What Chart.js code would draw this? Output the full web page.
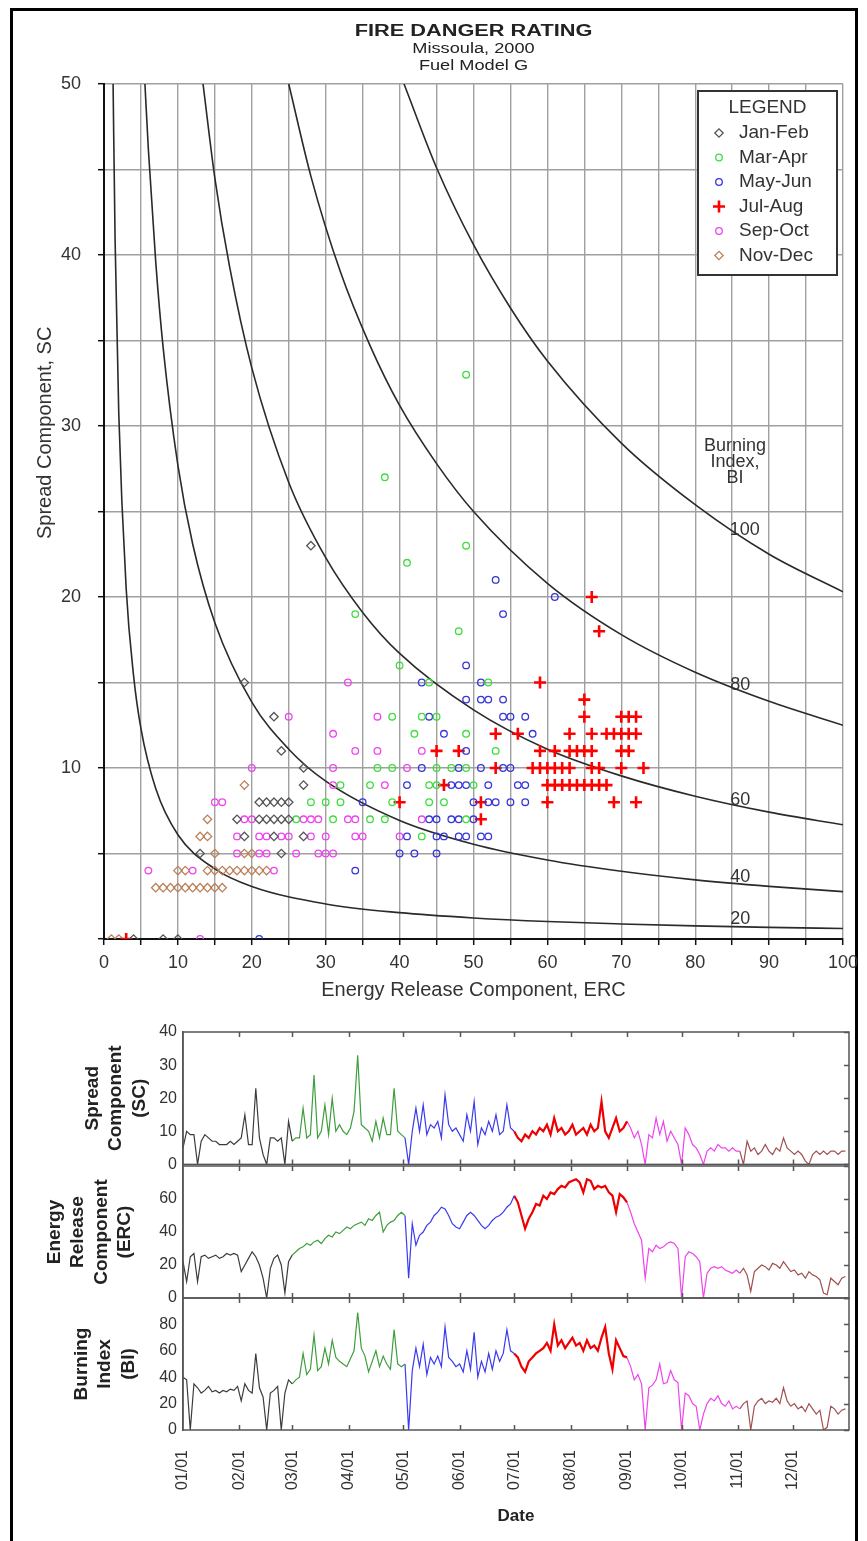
<!DOCTYPE html>
<html>
<head>
<meta charset="utf-8">
<script src="https://cdn.jsdelivr.net/npm/chart.js@4.4.1/dist/chart.umd.min.js"></script>
<style>
  body { margin: 0; background: #fff; }
  #page { position: relative; width: 867px; height: 1541px; overflow: hidden; background: #fff; }
  #frame { position: absolute; left: 10px; top: 8px; width: 848px; height: 1540px; border: 3px solid #000; border-bottom: none; box-sizing: border-box; }
  canvas { position: absolute; left: 0; }
</style>
</head>
<body>
<div id="page">
  <div id="frame"></div>
  <canvas id="scatter" width="867" height="1010" style="top:0"></canvas>
  <canvas id="sc" width="867" height="165" style="top:1015px"></canvas>
  <canvas id="erc" width="867" height="165" style="top:1150px"></canvas>
  <canvas id="bi" width="867" height="259" style="top:1282px"></canvas>
</div>
<script>
// scatter: ERC (x) against SC (y), one pair of arrays per two-month period
const janFebErc = [28, 19, 23, 24, 27, 27, 21, 22, 23, 24, 25, 18, 21, 22, 23, 24, 25, 19, 23, 27, 13, 24, 4, 8, 10];
const janFebSc  = [23, 15, 13, 11, 10, 9, 8, 8, 8, 8, 8, 7, 7, 7, 7, 7, 7, 6, 6, 6, 5, 5, 0, 0, 0];

const marAprErc = [49, 38, 49, 41, 34, 48, 40, 44, 52, 39, 43, 45, 42, 49, 53, 37, 39, 45, 47, 49, 32, 36, 44, 45, 50, 28, 30, 32, 39, 44, 46, 26, 31, 36, 38, 49, 43];
const marAprSc  = [33, 27, 23, 22, 19, 18, 16, 15, 15, 13, 13, 13, 12, 12, 11, 10, 10, 10, 10, 10, 9, 9, 9, 9, 9, 8, 8, 8, 8, 8, 8, 7, 7, 7, 7, 7, 6];

const mayJunErc = [53, 61, 54, 49, 43, 51, 49, 51, 52, 54, 44, 54, 55, 57, 46, 58, 49, 43, 48, 51, 54, 55, 41, 47, 48, 49, 52, 56, 57, 35, 50, 52, 53, 55, 57, 44, 45, 47, 48, 50, 41, 45, 46, 48, 49, 51, 52, 40, 42, 45, 34, 21];
const mayJunSc  = [21, 20, 19, 16, 15, 15, 14, 14, 14, 14, 13, 13, 13, 13, 12, 12, 11, 10, 10, 10, 10, 10, 9, 9, 9, 9, 9, 9, 9, 8, 8, 8, 8, 8, 8, 7, 7, 7, 7, 7, 6, 6, 6, 6, 6, 6, 6, 5, 5, 5, 4, 0];

const julAugErc = [66, 67, 59, 65, 65, 70, 71, 72, 53, 56, 63, 66, 68, 69, 70, 71, 72, 45, 48, 59, 61, 63, 64, 65, 66, 70, 71, 53, 58, 59, 60, 61, 62, 63, 66, 67, 70, 73, 46, 60, 61, 62, 63, 64, 65, 66, 67, 68, 40, 51, 60, 69, 72, 51, 3];
const julAugSc  = [20, 18, 15, 14, 13, 13, 13, 13, 12, 12, 12, 12, 12, 12, 12, 12, 12, 11, 11, 11, 11, 11, 11, 11, 11, 11, 11, 10, 10, 10, 10, 10, 10, 10, 10, 10, 10, 10, 9, 9, 9, 9, 9, 9, 9, 9, 9, 9, 8, 8, 8, 8, 8, 7, 0];

const sepOctErc = [33, 25, 37, 31, 34, 37, 43, 20, 31, 41, 31, 38, 15, 16, 19, 20, 27, 28, 29, 33, 34, 43, 18, 21, 22, 24, 25, 28, 30, 34, 35, 40, 18, 21, 22, 26, 29, 30, 31, 6, 12, 23, 13];
const sepOctSc  = [15, 13, 13, 12, 11, 11, 11, 10, 10, 10, 9, 9, 8, 8, 7, 7, 7, 7, 7, 7, 7, 7, 6, 6, 6, 6, 6, 6, 6, 6, 6, 6, 5, 5, 5, 5, 5, 5, 5, 4, 4, 4, 0];

const novDecErc = [19, 14, 13, 14, 15, 19, 20, 10, 11, 14, 15, 16, 17, 18, 19, 20, 21, 22, 7, 8, 9, 10, 11, 12, 13, 14, 15, 16, 1, 2];
const novDecSc  = [9, 7, 6, 6, 5, 5, 5, 4, 4, 4, 4, 4, 4, 4, 4, 4, 4, 4, 3, 3, 3, 3, 3, 3, 3, 3, 3, 3, 0, 0];

// Burning Index isolines
const bi20Erc  = [1.23, 1.5, 2, 3, 4, 5, 7, 10, 15, 20, 30, 40, 50, 60, 70, 80, 90, 100];
const bi20Sc   = [50, 40.9, 30.7, 20.5, 15.4, 12.3, 8.8, 6.1, 4.1, 3.07, 2.05, 1.54, 1.23, 1.02, 0.88, 0.77, 0.68, 0.61];
const bi40Erc  = [5.54, 6, 7, 8, 10, 12, 15, 20, 25, 30, 40, 50, 60, 70, 80, 90, 100];
const bi40Sc   = [50, 46.2, 39.6, 34.6, 27.7, 23.1, 18.5, 13.85, 11.1, 9.23, 6.93, 5.54, 4.62, 3.96, 3.46, 3.08, 2.77];
const bi60Erc  = [13.4, 15, 17, 20, 25, 30, 35, 40, 50, 60, 70, 80, 90, 100];
const bi60Sc   = [50, 44.5, 39.3, 33.4, 26.7, 22.3, 19.1, 16.7, 13.4, 11.1, 9.54, 8.35, 7.42, 6.68];
const bi80Erc  = [25, 28, 32, 36, 40, 45, 50, 60, 70, 80, 90, 100];
const bi80Sc   = [50, 44.6, 39.0, 34.7, 31.2, 27.8, 25.0, 20.8, 17.8, 15.6, 13.9, 12.5];
const bi100Erc = [40.6, 45, 50, 55, 60, 70, 80, 90, 100];
const bi100Sc  = [50, 45.1, 40.6, 36.9, 33.8, 29.0, 25.4, 22.5, 20.3];
const biLevels = ['20', '40', '60', '80', '100'];

// daily indices sampled every second day of 2000 (day 0 = 01/01)
const sampleDays = Array.from({ length: 183 }, (_, i) => i * 2);
const scValues = [
  5, 10, 9, 9, 0, 7, 9, 8, 7, 7, 6, 6, 6, 7, 6, 7, 8, 15, 6, 6, 23, 8, 3, 0, 8, 8, 7, 8, 0, 13,
  7, 8, 8, 17, 8, 9, 27, 8, 10, 18, 9, 20, 10, 12, 10, 9, 11, 16, 33, 12, 11, 10, 7, 13, 8, 14, 9, 9, 23, 10, 9,
  8, 0, 10, 17, 10, 18, 9, 12, 11, 13, 8, 21, 12, 10, 11, 9, 7, 15, 10, 19, 6, 11, 9, 13, 10, 15, 9, 10, 18, 11,
  10, 8, 7, 9, 8, 10, 9, 11, 10, 12, 9, 14, 10, 11, 9, 10, 12, 9, 10, 11, 9, 12, 10, 11, 19, 10, 8, 11, 14, 10, 11,
  13, 11, 8, 10, 6, 0, 9, 8, 14, 9, 13, 7, 10, 8, 6, 0, 11, 9, 6, 5, 3, 0, 4, 5, 4, 6, 5, 5, 4, 5, 4,
  4, 0, 7, 4, 5, 3, 4, 6, 4, 3, 5, 4, 8, 5, 4, 3, 4, 3, 1, 0, 3, 4, 3, 4, 3, 4, 4, 3, 4, 4
];
const ercValues = [
  22, 10, 25, 27, 10, 25, 26, 24, 25, 26, 24, 25, 27, 26, 27, 26, 16, 20, 24, 28, 25, 20, 12, 0, 18, 24, 26, 20, 3, 22,
  26, 28, 30, 31, 33, 32, 34, 35, 33, 36, 38, 37, 40, 39, 41, 43, 42, 44, 45, 46, 44, 48, 47, 50, 52, 40, 44, 46, 47, 50, 52,
  50, 12, 45, 32, 38, 40, 44, 46, 50, 52, 55, 54, 50, 45, 43, 42, 46, 50, 52, 50, 47, 44, 42, 44, 47, 49, 50, 52, 55, 57,
  62, 58, 50, 42, 48, 52, 57, 56, 62, 60, 64, 63, 66, 68, 67, 70, 71, 72, 70, 64, 72, 71, 66, 68, 67, 68, 64, 62, 52, 63, 61,
  58, 52, 45, 40, 35, 12, 30, 28, 32, 30, 31, 33, 34, 33, 30, 0, 25, 28, 27, 25, 22, 0, 15, 18, 19, 18, 19, 17, 16, 15, 17,
  15, 18, 14, 4, 16, 18, 20, 19, 17, 21, 20, 18, 22, 19, 16, 17, 14, 15, 12, 16, 14, 13, 11, 3, 2, 12, 10, 8, 12, 13
];
const biValues = [
  40, 38, 0, 35, 32, 28, 30, 33, 29, 30, 28, 30, 29, 31, 30, 33, 22, 35, 30, 28, 58, 32, 25, 0, 28, 30, 33, 0, 28, 38,
  35, 38, 40, 58, 42, 46, 72, 45, 48, 62, 50, 68, 55, 52, 50, 48, 54, 60, 89, 62, 56, 44, 52, 60, 48, 56, 50, 46, 76, 50, 48,
  50, 0, 45, 62, 48, 65, 42, 55, 50, 56, 48, 78, 55, 52, 48, 50, 44, 60, 46, 74, 40, 52, 44, 58, 46, 60, 52, 58, 76, 60,
  58, 55, 48, 44, 52, 55, 58, 60, 62, 66, 60, 80, 64, 68, 62, 66, 70, 64, 66, 60, 68, 62, 64, 60, 70, 78, 58, 46, 68, 62, 56,
  55, 48, 38, 42, 35, 0, 32, 34, 38, 50, 35, 36, 45, 38, 36, 0, 28, 26, 20, 18, 0, 12, 20, 24, 22, 26, 20, 18, 22, 16, 18,
  16, 20, 22, 0, 18, 22, 24, 20, 22, 21, 24, 20, 32, 22, 18, 20, 16, 18, 14, 20, 16, 12, 15, 0, 2, 18, 16, 12, 15, 16
];

const seasons = ['Jan-Feb', 'Mar-Apr', 'May-Jun', 'Jul-Aug', 'Sep-Oct', 'Nov-Dec'];
const seasonStarts = [0, 60, 121, 182, 244, 305, 366];
const monthDays = [0, 31, 60, 91, 121, 152, 182, 213, 244, 274, 305, 335];
const monthLabels = ['01/01', '02/01', '03/01', '04/01', '05/01', '06/01', '07/01', '08/01', '09/01', '10/01', '11/01', '12/01'];

const FONT = '"Liberation Sans", Arial, sans-serif';
Chart.defaults.font.family = FONT;
Chart.defaults.color = '#333';

const markers = [
  { style: 'rectRot', radius: 4.2, color: '#555555', width: 1.3 },
  { style: 'circle', radius: 3.3, color: '#3fdc3f', width: 1.3 },
  { style: 'circle', radius: 3.3, color: '#3636d8', width: 1.3 },
  { style: 'cross', radius: 6, color: '#ff0000', width: 2.6 },
  { style: 'circle', radius: 3.3, color: '#ee44ee', width: 1.3 },
  { style: 'rectRot', radius: 4.2, color: '#bb8058', width: 1.3 }
];
const lineColors = ['#3c3c3c', '#3e9e3e', '#3a3aee', '#ee0000', '#ee44ee', '#a05050'];

const pairs = (xs, ys) => xs.map((x, i) => ({ x, y: ys[i] }));
const scatterSets = [
  [janFebErc, janFebSc], [marAprErc, marAprSc], [mayJunErc, mayJunSc],
  [julAugErc, julAugSc], [sepOctErc, sepOctSc], [novDecErc, novDecSc]
].map(([xs, ys], i) => ({
  label: seasons[i],
  data: pairs(xs, ys),
  pointStyle: markers[i].style,
  pointRadius: markers[i].radius,
  pointBorderColor: markers[i].color,
  pointBackgroundColor: 'rgba(0,0,0,0)',
  pointBorderWidth: markers[i].width,
  showLine: false
}));

const curveSets = [[bi20Erc, bi20Sc], [bi40Erc, bi40Sc], [bi60Erc, bi60Sc], [bi80Erc, bi80Sc], [bi100Erc, bi100Sc]]
  .map(([xs, ys], i) => ({
    label: 'BI ' + biLevels[i],
    data: pairs(xs, ys),
    showLine: true,
    pointRadius: 0,
    borderColor: '#2a2a2a',
    borderWidth: 1.6,
    cubicInterpolationMode: 'monotone'
  }));

// text drawn inside the scatter: titles, isoline labels, boxed legend
const scatterDecor = {
  id: 'scatterDecor',
  afterDraw(chart) {
    const { ctx, chartArea: a, scales: { x, y } } = chart;
    ctx.save();
    ctx.fillStyle = '#222';
    ctx.textAlign = 'center';
    ctx.textBaseline = 'middle';
    const cx = (a.left + a.right) / 2;
    const stretched = (text, font, py, sx) => {
      ctx.save();
      ctx.font = font;
      ctx.translate(cx, py);
      ctx.scale(sx, 1);
      ctx.fillText(text, 0, 0);
      ctx.restore();
    };
    stretched('FIRE DANGER RATING', 'bold 16px ' + FONT, 32, 1.36);
    stretched('Missoula, 2000', '14px ' + FONT, 49, 1.3);
    stretched('Fuel Model G', '14px ' + FONT, 66, 1.3);

    // y axis title, sitting a little above the middle of the axis as in the original
    ctx.save();
    ctx.fillStyle = '#333';
    ctx.font = '20px ' + FONT;
    ctx.translate(45, y.getPixelForValue(29.6));
    ctx.rotate(-Math.PI / 2);
    ctx.fillText('Spread Component, SC', 0, 0);
    ctx.restore();

    ctx.fillStyle = '#333';
    ctx.font = '18px ' + FONT;
    const spots = [[86.1, 1.15], [86.1, 3.65], [86.1, 8.15], [86.1, 14.85], [86.7, 23.9]];
    biLevels.forEach((t, i) => ctx.fillText(t, x.getPixelForValue(spots[i][0]), y.getPixelForValue(spots[i][1])));
    ['Burning', 'Index,', 'BI'].forEach((t, i) =>
      ctx.fillText(t, x.getPixelForValue(85.4), y.getPixelForValue(28.8) + i * 16));

    // legend box
    const w = 139, h = 184;
    const lx = a.right - 6 - w, ly = a.top + 7;
    ctx.fillStyle = '#fff';
    ctx.fillRect(lx, ly, w, h);
    ctx.strokeStyle = '#333';
    ctx.lineWidth = 2;
    ctx.strokeRect(lx, ly, w, h);
    ctx.fillStyle = '#333';
    ctx.font = '19px ' + FONT;
    ctx.fillText('LEGEND', lx + w / 2, ly + 17);
    ctx.textAlign = 'left';
    seasons.forEach((s, i) => {
      const ry = ly + 42 + i * 24.5;
      const m = markers[i];
      ctx.strokeStyle = m.color;
      ctx.fillStyle = 'rgba(0,0,0,0)';
      ctx.lineWidth = m.width;
      Chart.helpers.drawPoint(ctx, { pointStyle: m.style, radius: m.radius, rotation: 0, borderWidth: m.width }, lx + 21, ry);
      ctx.fillStyle = '#333';
      ctx.fillText(s, lx + 41, ry);
    });
    ctx.restore();
  }
};

new Chart(document.getElementById('scatter'), {
  type: 'scatter',
  data: { datasets: [...scatterSets, ...curveSets] },
  options: {
    responsive: false,
    animation: false,
    devicePixelRatio: 1,
    layout: { padding: { top: 84, right: 24, bottom: 6, left: 0 } },
    plugins: { legend: { display: false }, tooltip: { enabled: false } },
    scales: {
      x: {
        type: 'linear', min: 0, max: 100,
        ticks: { stepSize: 5, autoSkip: false, maxRotation: 0, padding: 7, font: { size: 18 }, color: '#333',
          callback: v => (v % 10 === 0 ? v : '') },
        grid: { color: '#a0a0a0', lineWidth: 1.4, tickColor: '#111', tickLength: 6, tickWidth: 1.5 },
        border: { color: '#111', width: 2 },
        title: { display: true, text: 'Energy Release Component, ERC', font: { size: 20 }, color: '#333', padding: { top: 0, bottom: 2 } },
        afterFit: s => { s.height = 65; }
      },
      y: {
        type: 'linear', min: 0, max: 50,
        ticks: { stepSize: 5, autoSkip: false, padding: 17, font: { size: 18 }, color: '#333',
          callback: v => (v % 10 === 0 && v > 0 ? v : '') },
        grid: { color: '#a0a0a0', lineWidth: 1.4, tickColor: '#111', tickLength: 6, tickWidth: 1.5 },
        border: { color: '#111', width: 2 },
        afterFit: s => { s.width = 104; }
      }
    }
  },
  plugins: [scatterDecor]
});

// frame and inward ticks of the three time series panels
const panelFrame = {
  id: 'panelFrame',
  afterDraw(chart) {
    const { ctx, chartArea: a, scales: { x, y } } = chart;
    ctx.save();
    ctx.strokeStyle = '#555';
    ctx.lineWidth = 1.5;
    ctx.strokeRect(a.left, a.top, a.right - a.left, a.bottom - a.top);
    ctx.beginPath();
    monthDays.slice(1).forEach(d => {
      const px = Math.round(x.getPixelForValue(d)) + 0.5;
      ctx.moveTo(px, a.top); ctx.lineTo(px, a.top + 5);
      ctx.moveTo(px, a.bottom); ctx.lineTo(px, a.bottom - 5);
    });
    y.ticks.forEach(t => {
      const py = Math.round(y.getPixelForValue(t.value)) + 0.5;
      ctx.moveTo(a.right, py); ctx.lineTo(a.right - 5, py);
    });
    ctx.stroke();
    ctx.restore();
  }
};

function seasonSets(values) {
  return seasons.map((s, i) => {
    const data = [];
    sampleDays.forEach((d, k) => {
      if (d >= seasonStarts[i] && d < seasonStarts[i + 1]) data.push({ x: d, y: values[k] });
    });
    // join to the first sample of the next period
    const next = sampleDays.findIndex(d => d >= seasonStarts[i + 1]);
    if (next > 0) data.push({ x: sampleDays[next], y: values[next] });
    return {
      label: s, data,
      borderColor: lineColors[i],
      borderWidth: i === 3 ? 2.2 : 1.2,
      pointRadius: 0,
      tension: 0
    };
  });
}

function panel(id, values, yMax, yStep, titleLines, titlePad, padding, showDates) {
  new Chart(document.getElementById(id), {
    type: 'line',
    data: { datasets: seasonSets(values) },
    options: {
      responsive: false,
      animation: false,
      devicePixelRatio: 1,
      layout: { padding },
      plugins: { legend: { display: false }, tooltip: { enabled: false } },
      scales: {
        x: {
          type: 'linear', min: 0, max: 366,
          display: showDates,
          afterBuildTicks: s => { s.ticks = monthDays.map(v => ({ value: v })); },
          ticks: { autoSkip: false, minRotation: 90, maxRotation: 90, padding: 20, font: { size: 16 }, color: '#333',
            callback: v => monthLabels[monthDays.indexOf(v)] },
          grid: { display: false, drawTicks: false },
          border: { display: false },
          title: { display: true, text: 'Date', font: { size: 17, weight: 'bold' }, color: '#222', padding: { top: 0, bottom: 3 } },
          afterFit: s => { s.height = showDates ? 100 : 0; }
        },
        y: {
          type: 'linear', min: 0, max: yMax,
          ticks: { stepSize: yStep, padding: 6, font: { size: 16 }, color: '#333',
            callback: v => (v < yMax || yMax === 40 ? v : '') },
          grid: { display: false, drawTicks: false },
          border: { color: '#555', width: 1.5 },
          title: { display: true, text: titleLines, font: { size: 19, weight: 'bold', lineHeight: 1.23 }, color: '#222',
            padding: { top: titlePad, bottom: 0 } },
          afterFit: s => { s.width = 183; }
        }
      }
    },
    plugins: [panelFrame]
  });
}

panel('sc', scValues, 40, 10, ['Spread', 'Component', '(SC)'], 81, { top: 17, right: 18, bottom: 14, left: 0 }, false);
panel('erc', ercValues, 80, 20, ['Energy', 'Release', 'Component', '(ERC)'], 43, { top: 16, right: 18, bottom: 17, left: 0 }, false);
panel('bi', biValues, 100, 20, ['Burning', 'Index', '(BI)'], 70, { top: 16, right: 18, bottom: 11, left: 0 }, true);
</script>
</body>
</html>
